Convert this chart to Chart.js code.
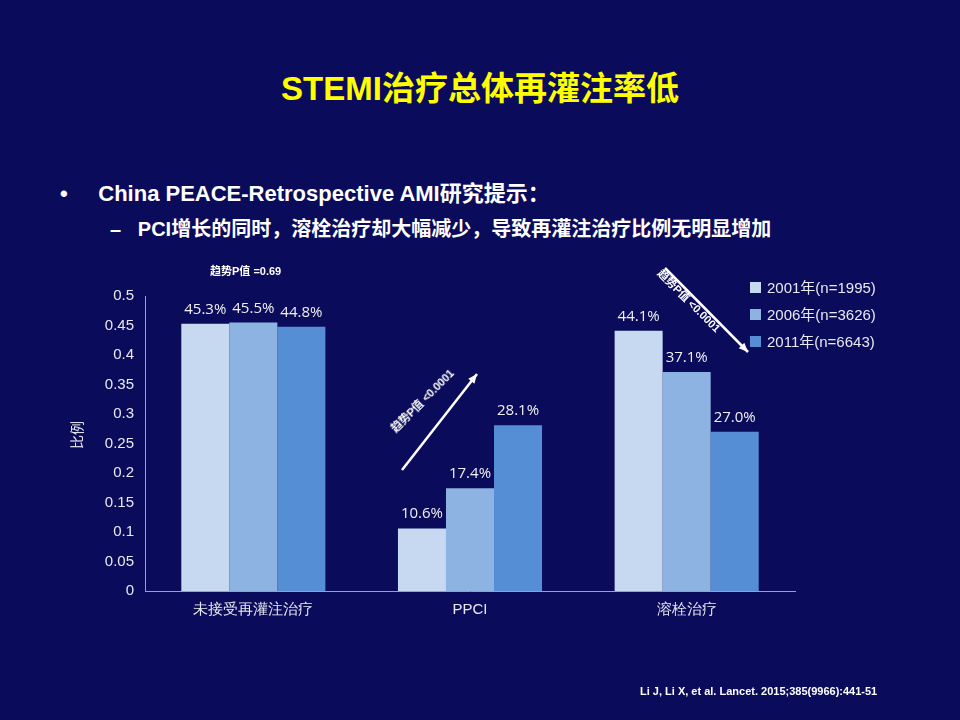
<!DOCTYPE html>
<html lang="zh">
<head>
<meta charset="UTF-8">
<title>STEMI治疗总体再灌注率低</title>
<style>
  body { margin: 0; width: 960px; height: 720px; background: #0b0b5c; overflow: hidden; position: relative;
         font-family: "Liberation Sans", "Noto Sans CJK SC", sans-serif; color: #fff; }
  #chart { position: absolute; left: 0; top: 0; }
  .abs { position: absolute; white-space: nowrap; }
  h1 { position: absolute; top: 62px; left: 0; width: 960px; text-align: center; margin: 0;
       color: #ffff00; font-size: 33px; font-weight: bold; }
  .b1 { left: 60px; top: 175px; font-size: 22px; font-weight: bold; }
  .b2 { left: 110px; top: 213px; font-size: 20px; font-weight: bold; }
  .legend { left: 750px; top: 274px; font-size: 15px; line-height: 27px; color: #e8e8f0; }
  .legend span { display: inline-block; width: 11px; height: 11px; margin-right: 6px; }
  .small { font-size: 11px; font-weight: bold; }
</style>
</head>
<body>
<h1>STEMI治疗总体再灌注率低</h1>
<div class="abs b1">•&nbsp;&nbsp;&nbsp;&nbsp;&nbsp;China PEACE-Retrospective AMI研究提示：</div>
<div class="abs b2">–&nbsp;&nbsp;&nbsp;PCI增长的同时，溶栓治疗却大幅减少，导致再灌注治疗比例无明显增加</div>
<canvas id="chart" width="960" height="720"></canvas>
<div class="abs small" style="left:210px;top:262px">趋势P值 =0.69</div>
<div class="abs" style="left:62px;top:425px;font-size:14px;transform:rotate(-90deg);color:#e8e8f0">比例</div>
<div class="abs small" style="left:380px;top:392px;transform:rotate(-45deg)">趋势P值 &lt;0.0001</div>
<div class="abs small" style="left:648px;top:292px;transform:rotate(45deg)">趋势P值 &lt;0.0001</div>
<div class="abs legend" id="legend"></div>
<div class="abs small" style="left:640px;top:685px">Li J, Li X, et al. Lancet. 2015;385(9966):441-51</div>
<script src="https://cdn.jsdelivr.net/npm/chart.js"></script>
<script>
const categories = ['未接受再灌注治疗', 'PPCI', '溶栓治疗'];
const seriesNames = ['2001年(n=1995)', '2006年(n=3626)', '2011年(n=6643)'];
const values2001 = [0.453, 0.106, 0.441];
const values2006 = [0.455, 0.174, 0.371];
const values2011 = [0.448, 0.281, 0.270];
const colors = ['#c6d9f0', '#8db3e2', '#558ed5'];
const yTicks = [0, 0.05, 0.1, 0.15, 0.2, 0.25, 0.3, 0.35, 0.4, 0.45, 0.5];

const legend = document.getElementById('legend');
seriesNames.forEach((n, i) => {
  legend.innerHTML += `<div><span style="background:${colors[i]}"></span>${n}</div>`;
});

const labelPlugin = {
  id: 'labels',
  afterDatasetsDraw(chart) {
    const ctx = chart.ctx;
    ctx.save();
    ctx.font = '15px "Open Sans", sans-serif';
    ctx.fillStyle = '#f0f0f0';
    ctx.textAlign = 'center';
    chart.data.datasets.forEach((ds, di) => {
      chart.getDatasetMeta(di).data.forEach((bar, i) => {
        ctx.fillText((ds.data[i] * 100).toFixed(1) + '%', bar.x, bar.y - 10);
      });
    });
    // trend arrows
    ctx.strokeStyle = '#fff'; ctx.fillStyle = '#fff'; ctx.lineWidth = 2.5;
    const arrow = (x1, y1, x2, y2) => {
      ctx.beginPath(); ctx.moveTo(x1, y1); ctx.lineTo(x2, y2); ctx.stroke();
      const a = Math.atan2(y2 - y1, x2 - x1);
      ctx.beginPath(); ctx.moveTo(x2, y2);
      ctx.lineTo(x2 - 10 * Math.cos(a - 0.4), y2 - 10 * Math.sin(a - 0.4));
      ctx.lineTo(x2 - 10 * Math.cos(a + 0.4), y2 - 10 * Math.sin(a + 0.4));
      ctx.closePath(); ctx.fill();
    };
    arrow(402, 470, 477, 374);
    arrow(665, 268, 748, 352);
    ctx.restore();
  }
};

new Chart(document.getElementById('chart'), {
  type: 'bar',
  data: {
    labels: categories,
    datasets: [values2001, values2006, values2011].map((d, i) => ({
      label: seriesNames[i], data: d, backgroundColor: colors[i],
      categoryPercentage: 0.665, barPercentage: 1
    }))
  },
  options: {
    responsive: false, animation: false,
    layout: { padding: { left: 60, right: 165, top: 296, bottom: 89 } },
    plugins: { legend: { display: false }, tooltip: { enabled: false } },
    scales: {
      x: {
        grid: { display: false, drawTicks: false },
        border: { color: '#a0a0b0' },
        ticks: { color: '#e8e8f0', font: { size: 15 }, padding: 10 },
        afterFit: s => { s.height = 40; }
      },
      y: {
        min: 0, max: 0.5,
        afterBuildTicks: s => { s.ticks = yTicks.map(v => ({ value: v })); },
        grid: { display: false },
        border: { color: '#a0a0b0' },
        ticks: { color: '#e8e8f0', font: { size: 15 }, callback: v => String(+v.toFixed(2)) },
        afterFit: s => { s.width = 85; }
      }
    }
  },
  plugins: [labelPlugin]
});
</script>
</body>
</html>
